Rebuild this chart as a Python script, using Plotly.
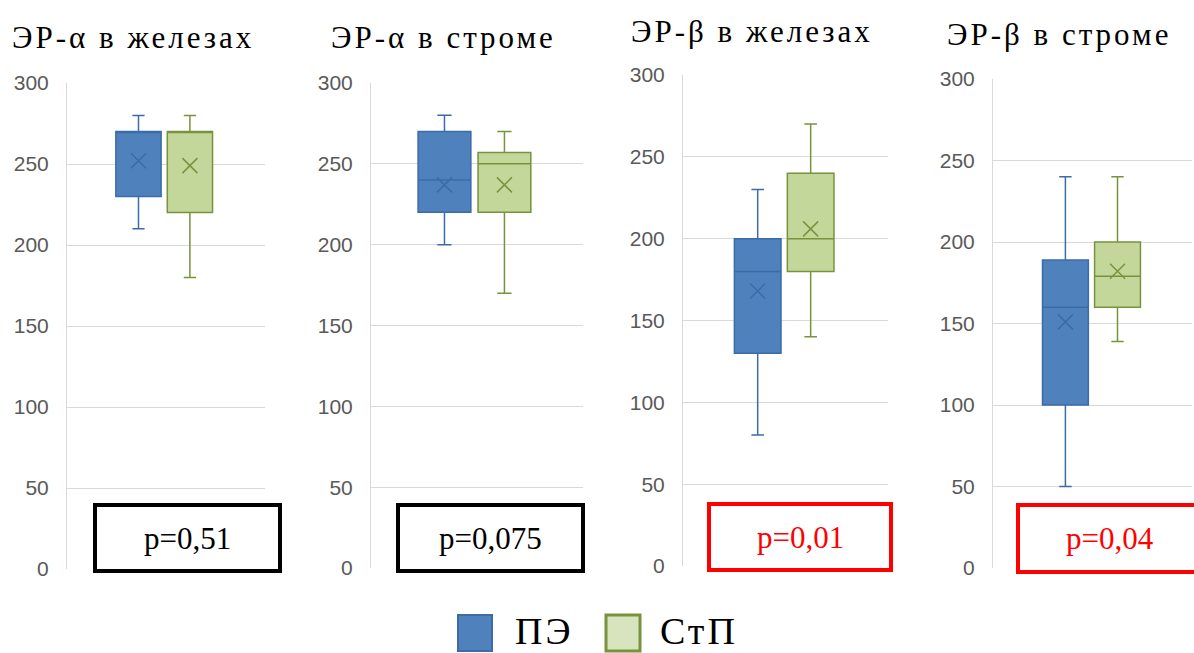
import plotly.graph_objects as go

# ---------------- data ----------------
panel_titles = ["ЭР-α в железах", "ЭР-α в строме", "ЭР-β в железах", "ЭР-β в строме"]
groups = ["ПЭ", "СтП"]

pe_min = [210, 200, 80, 50]
pe_q1 = [230, 220, 130, 100]
pe_median = [270, 240, 180, 160]
pe_q3 = [270, 270, 200, 189]
pe_max = [280, 280, 230, 240]
pe_mean = [252, 237, 168, 151]

stp_min = [180, 170, 140, 139]
stp_q1 = [220, 220, 180, 160]
stp_median = [270, 250, 200, 179]
stp_q3 = [270, 257, 240, 200]
stp_max = [280, 270, 270, 240]
stp_mean = [249, 237, 206, 182]

p_labels = ["p=0,51", "p=0,075", "p=0,01", "p=0,04"]
p_significant = [False, False, True, True]

y_ticks = [0, 50, 100, 150, 200, 250, 300]

# ---------------- style / layout ----------------
W, H = 1194, 653
BLUE_FILL, BLUE_LINE = "#4F81BD", "#3B6CA8"
GREEN_FILL, GREEN_LINE = "#C4D79B", "#77933C"
GRID = "#D9D9D9"
TICK_COLOR = "#595959"
SERIF = "Liberation Serif, Times New Roman, serif"
SANS = "Liberation Sans, Arial, sans-serif"

# pixel geometry of each panel: (x_left, x_right, y_top, y_bottom, x_range)
panels_px = [
    (67, 265, 83, 569, [-1.39, 2.46]),
    (371, 583, 83, 568, [-1.225, 2.31]),
    (683, 888, 75, 566, [-1.41, 2.46]),
    (993, 1192, 79, 568, [-1.39, 2.43]),
]
title_px = [(10, 38), (329, 38), (629, 31), (945, 34)]
pbox_px = [(95, 280, 505, 571), (398, 583, 505, 571), (709, 891, 504, 570), (1018, 1201, 505, 572)]


def px_x(x):
    return x / W


def px_y(y):
    return 1 - y / H


fig = go.Figure()
layout_axes = {}
shapes = []
annotations = []

for i in range(4):
    n = "" if i == 0 else str(i + 1)
    xa, ya = "x" + n, "y" + n
    xl, xr, yt, yb, xrng = panels_px[i]

    fig.add_trace(go.Box(
        x=[groups[0]], q1=[pe_q1[i]], median=[pe_median[i]], q3=[pe_q3[i]],
        lowerfence=[pe_min[i]], upperfence=[pe_max[i]],
        fillcolor=BLUE_FILL, line=dict(color=BLUE_LINE, width=1.5),
        whiskerwidth=0.27, width=0.88, name=groups[0], showlegend=False,
        xaxis=xa, yaxis=ya, hoverinfo="skip"))
    fig.add_trace(go.Box(
        x=[groups[1]], q1=[stp_q1[i]], median=[stp_median[i]], q3=[stp_q3[i]],
        lowerfence=[stp_min[i]], upperfence=[stp_max[i]],
        fillcolor=GREEN_FILL, line=dict(color=GREEN_LINE, width=1.5),
        whiskerwidth=0.27, width=0.88, name=groups[1], showlegend=False,
        xaxis=xa, yaxis=ya, hoverinfo="skip"))
    fig.add_trace(go.Scatter(
        x=groups, y=[pe_mean[i], stp_mean[i]], mode="markers",
        marker=dict(symbol="x-thin", size=15,
                    line=dict(width=1.5, color=[BLUE_LINE, GREEN_LINE])),
        showlegend=False, xaxis=xa, yaxis=ya, hoverinfo="skip"))

    layout_axes["xaxis" + n] = dict(
        domain=[px_x(xl), px_x(xr)], anchor=ya, type="category",
        categoryorder="array", categoryarray=groups, range=xrng,
        showticklabels=False, showgrid=False, zeroline=False, showline=False,
        fixedrange=True, automargin=False)
    layout_axes["yaxis" + n] = dict(
        domain=[px_y(yb), px_y(yt)], anchor=xa, range=[0, 300],
        tickvals=y_ticks, showgrid=True, gridcolor=GRID, gridwidth=1,
        zeroline=False, showline=True, linecolor=GRID, linewidth=1,
        ticks="outside", ticklen=13, tickcolor="rgba(0,0,0,0)",
        tickfont=dict(family=SANS, size=21, color=TICK_COLOR),
        fixedrange=True, automargin=False)

    tx, ty = title_px[i]
    annotations.append(dict(
        text='<span style="letter-spacing:3px">' + panel_titles[i] + "</span>",
        xref="paper", yref="paper", x=px_x(tx), y=px_y(ty),
        xanchor="left", yanchor="middle", showarrow=False,
        font=dict(family=SERIF, size=31, color="#000000")))

    bx0, bx1, by0, by1 = pbox_px[i]
    col = "#FF0000" if p_significant[i] else "#000000"
    shapes.append(dict(
        type="rect", xref="paper", yref="paper",
        x0=px_x(bx0), x1=px_x(bx1), y0=px_y(by1), y1=px_y(by0),
        line=dict(color=col, width=4), fillcolor="#FFFFFF", layer="above"))
    annotations.append(dict(
        text=p_labels[i], xref="paper", yref="paper",
        x=px_x((bx0 + bx1) / 2), y=px_y((by0 + by1) / 2),
        xanchor="center", yanchor="middle", showarrow=False,
        font=dict(family=SERIF, size=31, color=col)))

# legend drawn manually
legend_items = [(458, BLUE_FILL, BLUE_LINE, 2, 513), (606, "#D7E4BD", GREEN_LINE, 3, 658)]
for (lx, fillc, linec, lw, tx), g in zip(legend_items, groups):
    shapes.append(dict(
        type="rect", xref="paper", yref="paper",
        x0=px_x(lx), x1=px_x(lx + 34), y0=px_y(651), y1=px_y(615),
        line=dict(color=linec, width=lw), fillcolor=fillc))
    annotations.append(dict(
        text='<span style="letter-spacing:3px">' + g + "</span>",
        xref="paper", yref="paper", x=px_x(tx), y=px_y(631),
        xanchor="left", yanchor="middle", showarrow=False,
        font=dict(family=SERIF, size=38, color="#000000")))

fig.update_layout(
    width=W, height=H,
    margin=dict(l=0, r=0, t=0, b=0, pad=0),
    paper_bgcolor="#FFFFFF", plot_bgcolor="#FFFFFF",
    showlegend=False, shapes=shapes, annotations=annotations,
    **layout_axes)

fig.write_html(
    "out.html",
    config={"displayModeBar": False},
    post_script="document.body.style.margin='0px';document.body.style.overflow='hidden';",
)
